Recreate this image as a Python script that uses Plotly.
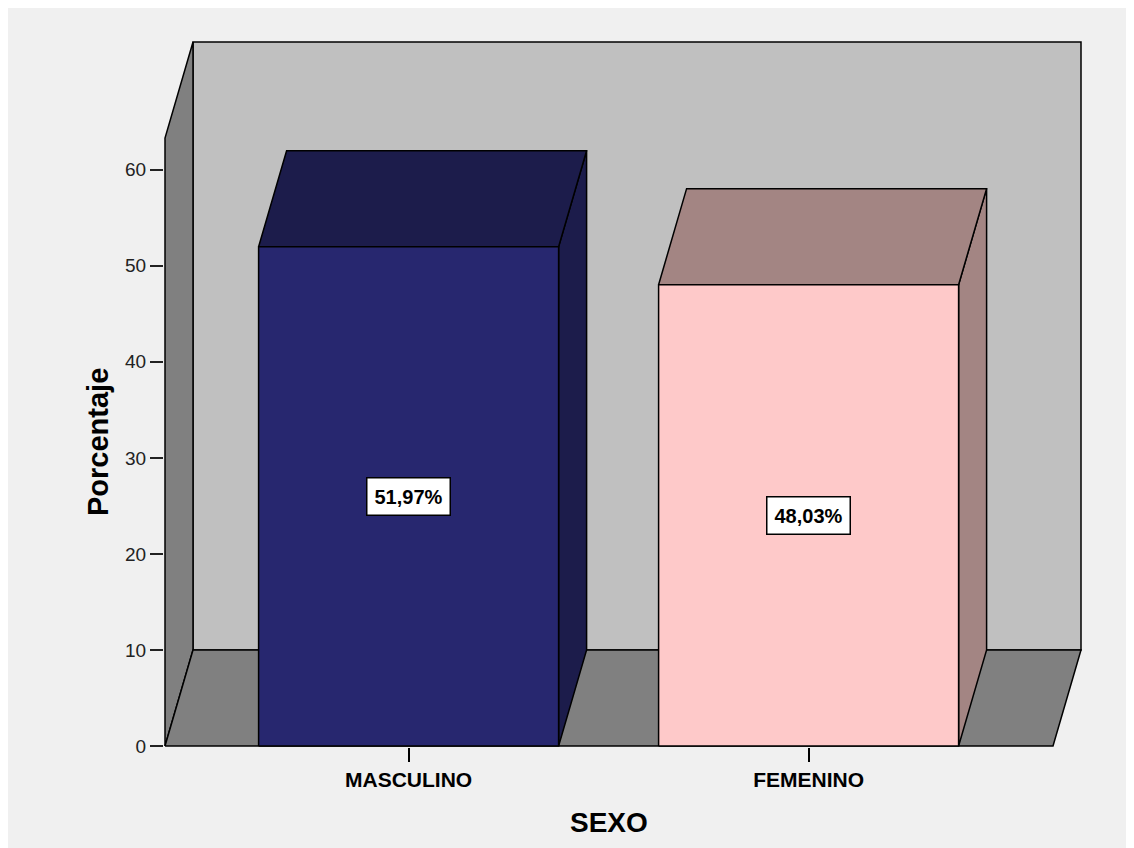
import plotly.graph_objects as go

# ---- data ----
categories = ["MASCULINO", "FEMENINO"]
percentages = [51.97, 48.03]
value_labels = ["51,97%", "48,03%"]
y_ticks = [0, 10, 20, 30, 40, 50, 60]
x_title = "SEXO"
y_title = "Porcentaje"

front_colors = ["#27276f", "#fec9c9"]
shade_colors = ["#1c1c4b", "#a38583"]

# ---- 3D geometry (in axis units) ----
W = 0.75        # bar width (category units)
DX = 0.07       # depth offset along x
DY = 10.0       # depth offset along y (value units)
WALL_TOP = 63.3
X_LEFT = -0.609
X_RIGHT = 1.611
FONT = "Liberation Sans, Arial"

fig = go.Figure()

def poly(xs, ys, color, lw=1.5):
    fig.add_trace(go.Scatter(
        x=xs + [xs[0]], y=ys + [ys[0]], mode="lines", fill="toself",
        fillcolor=color, line=dict(color="black", width=lw),
        hoverinfo="skip", showlegend=False))

# back wall
poly([X_LEFT + DX, X_RIGHT + DX, X_RIGHT + DX, X_LEFT + DX],
     [DY, DY, WALL_TOP + DY, WALL_TOP + DY], "#c0c0c0")
# left wall
poly([X_LEFT, X_LEFT, X_LEFT + DX, X_LEFT + DX],
     [0, WALL_TOP, WALL_TOP + DY, DY], "#808080")
# floor
poly([X_LEFT, X_RIGHT, X_RIGHT + DX, X_LEFT + DX],
     [0, 0, DY, DY], "#808080")

# bars
for i, v in enumerate(percentages):
    x0, x1 = i - W / 2, i + W / 2
    # right side
    poly([x1, x1 + DX, x1 + DX, x1], [0, DY, v + DY, v], shade_colors[i])
    # top
    poly([x0, x1, x1 + DX, x0 + DX], [v, v, v + DY, v + DY], shade_colors[i])
    # front
    poly([x0, x1, x1, x0], [0, 0, v, v], front_colors[i])
    fig.add_annotation(
        x=i, y=v / 2, text="<b>" + value_labels[i] + "</b>", showarrow=False,
        font=dict(family=FONT, size=20, color="black"),
        bgcolor="white", bordercolor="black", borderwidth=1.5, borderpad=7)

# axis titles, centred on the front edges of the 3D frame
fig.add_annotation(
    x=(X_LEFT + X_RIGHT) / 2, xref="x", y=0, yref="paper", yanchor="middle",
    yshift=-75, text="<b>%s</b>" % x_title, showarrow=False,
    font=dict(family=FONT, size=28, color="black"))
fig.add_annotation(
    x=0, xref="paper", xanchor="center", xshift=-66, y=WALL_TOP / 2, yref="y",
    text="<b>%s</b>" % y_title, textangle=-90, showarrow=False,
    font=dict(family=FONT, size=29, color="black"))

fig.update_layout(
    width=1121, height=840,
    margin=dict(l=156, r=47, t=33, b=101),
    paper_bgcolor="#f0f0f0", plot_bgcolor="#f0f0f0",
    font=dict(family=FONT, color="#222"),
    xaxis=dict(
        range=[-0.6115, 1.6835], showgrid=False, zeroline=False, showline=False,
        tickvals=list(range(len(categories))), ticktext=["<b>%s</b>" % c for c in categories],
        ticks="outside", ticklen=14, tickcolor="black", tickwidth=1.5,
        tickfont=dict(size=21, color="black")),
    yaxis=dict(
        range=[-0.104, 73.4], showgrid=False, zeroline=False, showline=False,
        tickvals=y_ticks, ticks="outside", ticklen=13, tickcolor="#222", tickwidth=1.5,
        tickfont=dict(size=19, color="#222")),
)

fig.write_html("out.html")
